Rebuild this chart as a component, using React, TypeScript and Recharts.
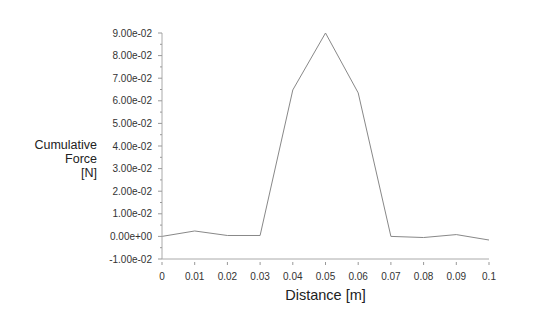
import { LineChart, Line, XAxis, YAxis } from 'recharts';

const distance = [0, 0.01, 0.02, 0.03, 0.04, 0.05, 0.06, 0.07, 0.08, 0.09, 0.1];
const force = [0.0, 0.0024, 0.0004, 0.0004, 0.0648, 0.09, 0.0635, 0.0, -0.0005, 0.0008, -0.0016];

const xTicks = [0, 0.01, 0.02, 0.03, 0.04, 0.05, 0.06, 0.07, 0.08, 0.09, 0.1];
const xTickLabels = ['0', '0.01', '0.02', '0.03', '0.04', '0.05', '0.06', '0.07', '0.08', '0.09', '0.1'];
const yTicks = [
  -0.01, -0.005, 0, 0.005, 0.01, 0.015, 0.02, 0.025, 0.03, 0.035, 0.04,
  0.045, 0.05, 0.055, 0.06, 0.065, 0.07, 0.075, 0.08, 0.085, 0.09,
];
const yTickLabels = [
  '-1.00e-02', '', '0.00e+00', '', '1.00e-02', '', '2.00e-02', '', '3.00e-02', '', '4.00e-02',
  '', '5.00e-02', '', '6.00e-02', '', '7.00e-02', '', '8.00e-02', '', '9.00e-02',
];
const yTitle = ['Cumulative', 'Force', '[N]'];

const data = distance.map((d, i) => ({ d, f: force[i] }));

const FONT = 'Liberation Sans, Arial, sans-serif';

function YTick(props: any) {
  const { x, y, index } = props;
  const label = yTickLabels[index] ?? '';
  const major = label !== '';
  return (
    <g>
      <line x1={x + 6} x2={x + 6 - (major ? 4 : 2)} y1={y} y2={y} stroke="#999" />
      {major && (
        <text x={x - 4} y={y} dy="0.35em" textAnchor="end" fontSize={10} fill="#333" fontFamily={FONT}>
          {label}
        </text>
      )}
    </g>
  );
}

function XTick(props: any) {
  const { x, y, index } = props;
  return (
    <g>
      <line x1={x} x2={x} y1={y - 8} y2={y - 11} stroke="#999" />
      <text x={x} y={y} dy="0.71em" textAnchor="middle" fontSize={10} fill="#333" fontFamily={FONT}>
        {xTickLabels[index]}
      </text>
    </g>
  );
}

export default function App() {
  return (
    <div style={{ position: 'absolute', left: 0, top: 0, background: '#fff' }}>
      <LineChart width={543} height={324} data={data} margin={{ top: 33, right: 54, bottom: 0, left: 0 }}>
        <XAxis
          dataKey="d"
          type="number"
          domain={[0, 0.1]}
          ticks={xTicks}
          interval={0}
          stroke="#aaa"
          tickLine={false}
          tick={<XTick />}
          tickMargin={8}
          height={65}
          label={{ value: 'Distance [m]', position: 'insideBottom', offset: 24, fontSize: 14.5, fill: '#222', fontFamily: FONT }}
        />
        <YAxis
          type="number"
          domain={[-0.01, 0.09]}
          ticks={yTicks}
          interval={0}
          width={162}
          stroke="#aaa"
          tickLine={false}
          tick={<YTick />}
          tickMargin={0}
          label={{
            content: () => (
              <text textAnchor="end" fontSize={12.5} fill="#222" fontFamily={FONT}>
                {yTitle.map((t, i) => (
                  <tspan key={t} x={97} y={149 + i * 14}>
                    {t}
                  </tspan>
                ))}
              </text>
            ),
          }}
        />
        <Line
          dataKey="f"
          type="linear"
          stroke="#888"
          strokeWidth={1}
          dot={false}
          isAnimationActive={false}
        />
      </LineChart>
    </div>
  );
}
